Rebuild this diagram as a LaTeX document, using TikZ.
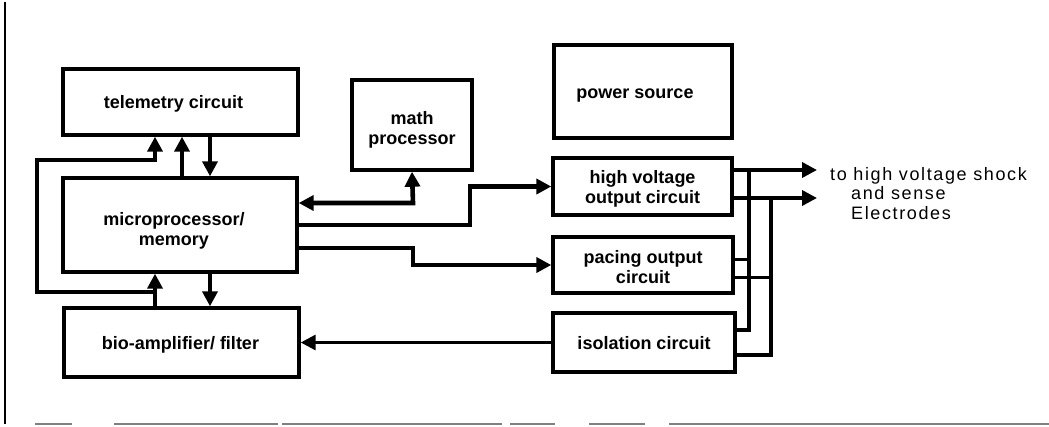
\documentclass[tikz,border=0pt]{standalone}
\usepackage{fontspec}
\setmainfont{Liberation Sans}
\usetikzlibrary{arrows.meta}
\tikzset{
  box/.style={draw=black, line width=3.4pt, fill=white, inner sep=0pt},
  txt/.style={inner sep=0pt, align=center, font=\bfseries\fontsize{18}{20}\selectfont},
  conn/.style={line width=4.6pt, line join=miter, draw=black},
  thinconn/.style={line width=3pt, draw=black},
  wire/.style={line width=3.6pt, draw=black},
  stub/.style={line width=3pt, draw=black},
  tip/.style={-{Triangle[length=15pt,width=15pt]}},
  dtip/.style={{Triangle[length=15pt,width=15pt]}-{Triangle[length=15pt,width=15pt]}},
  rule/.style={line width=1.8pt, draw=black!50},
}
\begin{document}
\begin{tikzpicture}[x=1pt,y=-1pt]
\useasboundingbox (0,0) rectangle (1049,426);
% frame remnants
\draw[line width=2.4pt] (5,2) -- (5,424);
\foreach \a/\b in {35/72,114/278,282/502,510/555,589/645,669/1049}
  \draw[rule] (\a,424) -- (\b,424);
% boxes
\node[box, minimum width=235pt, minimum height=66pt] (tele) at (180.5,102) {};
\node[box, minimum width=234pt, minimum height=94pt] (micro) at (180,225) {};
\node[box, minimum width=235pt, minimum height=69pt] (bio) at (181.5,342.5) {};
\node[box, minimum width=120pt, minimum height=90pt] (math) at (412,125) {};
\node[box, minimum width=178pt, minimum height=93pt] (power) at (643,91.5) {};
\node[box, minimum width=179pt, minimum height=57pt] (hv) at (642.5,186.5) {};
\node[box, minimum width=180pt, minimum height=56pt] (pace) at (643,265) {};
\node[box, minimum width=182pt, minimum height=59pt] (iso) at (644,342.5) {};
% box texts
\node[txt] (teleT) at ([xshift=-7pt,yshift=-2pt]tele.center) {telemetry circuit};
\node[txt] (microT) at ([xshift=-6pt,yshift=-6pt]micro.center) {microprocessor/\\memory};
\node[txt] (bioT) at ([xshift=-1pt,yshift=-2pt]bio.center) {bio-amplifier/ filter};
\node[txt] (mathT) at ([yshift=-5pt]math.center) {math\\processor};
\node[txt] (powerT) at ([xshift=-8pt,yshift=-4pt]power.center) {power source};
\node[txt] (hvT) at ([yshift=-2pt]hv.center) {high voltage\\output circuit};
\node[txt] (paceT) at ([yshift=-2pt]pace.center) {pacing output\\circuit};
\node[txt] (isoT) at ([yshift=-1pt]iso.center) {isolation circuit};
% helper coordinates
\coordinate (xa) at (155,0);
\coordinate (xb) at (182,0);
\coordinate (xc) at (210,0);
\coordinate (xl) at (37,0);
\coordinate (ytop) at (0,160);
\coordinate (ybot) at (0,292);
\coordinate (ymath) at (0,203);
\coordinate (yhv) at (0,225);
\coordinate (ypc) at (0,248);
\coordinate (xm) at (413,0);
\coordinate (xh) at (470,0);
\coordinate (o1) at (817,170);
\coordinate (o2) at (817,198);
\coordinate (wA) at (749,0);
\coordinate (wB) at (771,0);
\coordinate (yA) at (0,330);
\coordinate (yB) at (0,355);
\coordinate (yp1) at (0,259);
\coordinate (yp2) at (0,277);
% telemetry <-> micro
\draw[conn,tip] (xc |- tele.south) -- (xc |- micro.north);
\draw[conn,tip] (xb |- micro.north) -- (xb |- tele.south);
% loop from bio-amp to telemetry
\draw[conn,tip] (xa |- bio.north) -- (xa |- ybot) -- (xl |- ybot) -- (xl |- ytop) -- (xa |- ytop) -- (xa |- tele.south);
\draw[conn,tip] (xa |- bio.north) -- (xa |- micro.south);
\draw[conn,tip] (xc |- micro.south) -- (xc |- bio.north);
% micro <-> math
\draw[conn,dtip] (micro.east |- ymath) -- (xm |- ymath) -- (math.south);
% micro -> hv
\draw[conn,tip] (micro.east |- yhv) -- (xh |- yhv) -- (xh |- hv.west) -- (hv.west);
% micro -> pacing
\draw[conn,tip] (micro.east |- ypc) -- (xm |- ypc) -- (xm |- pace.west) -- (pace.west);
% isolation -> bio
\draw[thinconn,tip] (iso.west) -- (bio.east |- iso.west);
% outputs
\draw[wire,tip] (hv.east |- o1) -- (o1);
\draw[wire,tip] (hv.east |- o2) -- (o2);
\draw[wire] (wA |- o1) -- (wA |- yA) -- (iso.east |- yA);
\draw[wire] (wB |- o2) -- (wB |- yB) -- (iso.east |- yB);
\draw[stub] (pace.east |- yp1) -- (wA |- yp1);
\draw[stub] (pace.east |- yp2) -- (wB |- yp2);
\node[anchor=north west, align=left, inner sep=0pt,
  font=\fontsize{18}{19.5}\selectfont\addfontfeature{LetterSpace=9}] (lbl) at (830,167)
  {to high voltage shock\\\hspace*{21pt}and sense\\\hspace*{21pt}Electrodes};
\end{tikzpicture}
\end{document}
